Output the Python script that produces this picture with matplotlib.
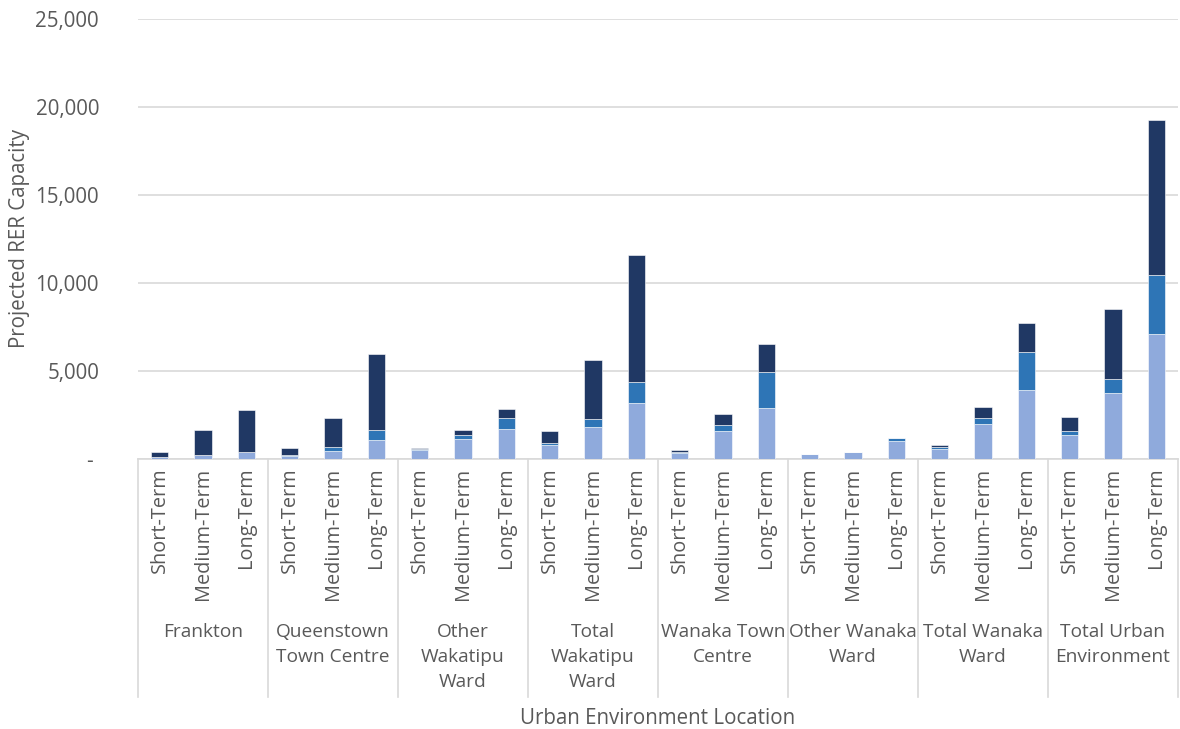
import numpy as np
import matplotlib
matplotlib.use("Agg")
import matplotlib.pyplot as plt
from matplotlib.ticker import FuncFormatter

# Locations (wrapped as in the category axis) and the three horizons
locations = [
    "Frankton",
    "Queenstown\nTown Centre",
    "Other\nWakatipu\nWard",
    "Total\nWakatipu\nWard",
    "Wanaka Town\nCentre",
    "Other Wanaka\nWard",
    "Total Wanaka\nWard",
    "Total Urban\nEnvironment",
]
horizons = ["Short-Term", "Medium-Term", "Long-Term"]

# Stacked components, one value per (location, horizon) in order
lower = [90, 200, 380,  160, 470, 1080,  530, 1140, 1700,  780, 1810, 3160,
         320, 1590, 2920,  270, 380, 1020,  590, 1970, 3940,  1370, 3750, 7080]
middle = [10, 30, 30,  60, 230, 570,  60, 230, 610,  130, 490, 1210,
          60, 340, 2010,  20, 30, 150,  80, 370, 2160,  210, 800, 3360]
upper = [270, 1420, 2370,  380, 1650, 4320,  50, 280, 510,  700, 3350, 7200,
         130, 610, 1590,  0, 0, 20,  130, 610, 1610,  830, 3980, 8810]

colors = ["#8faadc", "#2e75b6", "#203864"]
text_color = "#595959"
grid_color = "#d9d9d9"
plt.rcParams["font.family"] = ["Open Sans", "DejaVu Sans"]

fig = plt.figure(figsize=(11.8, 7.29), dpi=100)
fig.patch.set_facecolor("white")
ax = fig.add_axes([138 / 1180, 1 - 459 / 729, 1040 / 1180, 440 / 729])

n = len(locations) * len(horizons)
x = np.arange(n)
bottom = np.zeros(n)
for vals, c in zip([lower, middle, upper], colors):
    vals = np.array(vals, dtype=float)
    ax.bar(x, vals, bottom=bottom, width=0.4, color=c,
           edgecolor="white", linewidth=0.4, zorder=3)
    bottom += vals

ax.set_xlim(-0.5, n - 0.5)
ax.set_ylim(0, 25000)
ax.set_yticks(np.arange(0, 25001, 5000))
ax.yaxis.set_major_formatter(FuncFormatter(lambda v, p: "- " if v == 0 else f"{v:,.0f}"))
ax.tick_params(axis="y", length=0, pad=28, labelsize=14.8, labelcolor=text_color)
ax.set_xticks([])
ax.grid(axis="y", color=grid_color, linewidth=1.2, zorder=0)
for s in ["top", "right", "left"]:
    ax.spines[s].set_visible(False)
ax.spines["bottom"].set_color(grid_color)
ax.spines["bottom"].set_linewidth(1.2)

# Multi-level category axis
trans = ax.get_xaxis_transform()
for i in range(len(locations) + 1):
    xb = i * 3 - 0.5
    ax.plot([xb, xb], [0, -0.541], transform=trans, color=grid_color,
            linewidth=1.2, clip_on=False)
for i in range(n):
    ax.text(i, -0.02, horizons[i % 3], transform=trans, rotation=90,
            ha="center", va="top", fontsize=14.3, color=text_color)
for g, name in enumerate(locations):
    ax.text(g * 3 + 1, -0.372, name, transform=trans, ha="center", va="top",
            fontsize=13.8, color=text_color, linespacing=1.5)

ax.text(0.5, -0.59, "Urban Environment Location", transform=ax.transAxes,
        ha="center", va="center", fontsize=14.8, color=text_color)
fig.text(20 / 1180, 1 - 239 / 729, "Projected RER Capacity", rotation=90,
         ha="center", va="center", fontsize=14.8, color=text_color)

fig.savefig("out.png", dpi=100, facecolor="white")
